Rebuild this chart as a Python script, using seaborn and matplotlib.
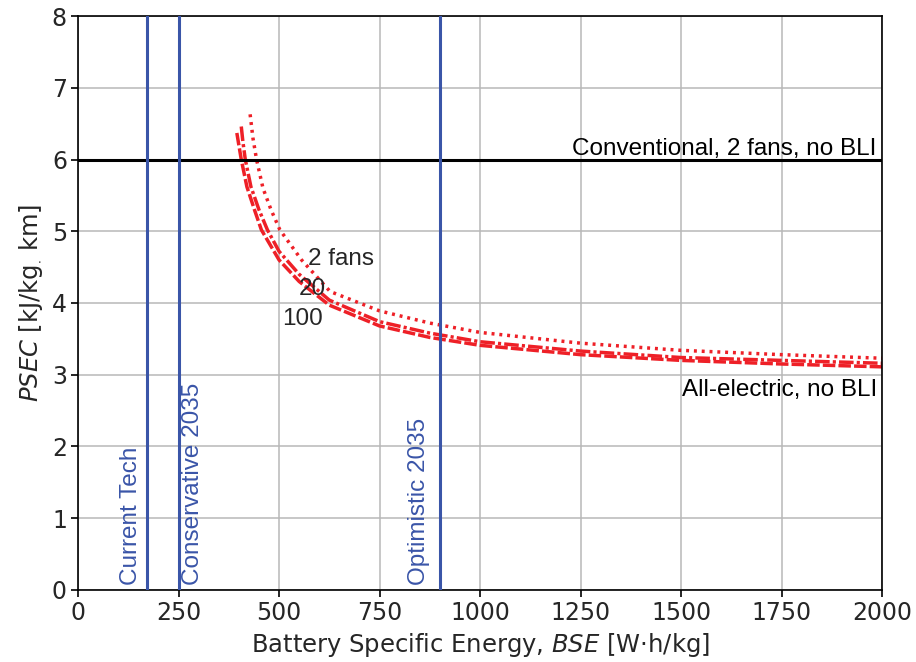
import matplotlib
matplotlib.use("Agg")
import matplotlib.pyplot as plt
import seaborn as sns
import pandas as pd

# ---- data ----
bse_100 = [395, 400, 406, 420, 440, 456, 500, 550, 625, 750, 875, 1000, 1250, 1500, 1750, 2000]
psec_100 = [6.37, 6.2, 6.0, 5.62, 5.28, 5.02, 4.6, 4.3, 3.97, 3.68, 3.52, 3.41, 3.28, 3.20, 3.15, 3.11]

bse_20 = [406, 410, 416, 430, 450, 471, 500, 550, 625, 750, 875, 1000, 1250, 1500, 1750, 2000]
psec_20 = [6.46, 6.25, 6.0, 5.62, 5.3, 5.02, 4.72, 4.4, 4.04, 3.74, 3.58, 3.46, 3.33, 3.24, 3.20, 3.16]

bse_2 = [428, 435, 444, 460, 480, 502, 556, 627, 700, 750, 875, 1000, 1250, 1500, 1750, 2000]
psec_2 = [6.63, 6.3, 6.0, 5.6, 5.3, 5.02, 4.6, 4.16, 4.0, 3.89, 3.72, 3.59, 3.44, 3.34, 3.28, 3.23]

conventional_psec = 6.0
tech_levels = ["Current Tech", "Conservative 2035", "Optimistic 2035"]
tech_bse = [172, 250, 900]

df = pd.concat([
    pd.DataFrame({"BSE": bse_100, "PSEC": psec_100, "fans": "100"}),
    pd.DataFrame({"BSE": bse_20, "PSEC": psec_20, "fans": "20"}),
    pd.DataFrame({"BSE": bse_2, "PSEC": psec_2, "fans": "2"}),
])

sns.set_theme(style="ticks")
plt.rcParams["font.family"] = ["DejaVu Sans"]
ann_font = ["Liberation Sans", "DejaVu Sans"]
FS = 17.5

fig = plt.figure(figsize=(9.16, 6.62), dpi=100)
ax = fig.add_axes([0.0852, 0.1088, 0.963 - 0.0852, 0.9758 - 0.1088])

red = "#ee2027"
blue = "#3a55a8"
styles = {"100": (0, (3.6, 0.9)), "20": (0, (4.2, 0.9, 0.9, 0.9)), "2": (0, (0.85, 1.4))}
for key, ls in styles.items():
    sub = df[df["fans"] == key]
    sns.lineplot(data=sub, x="BSE", y="PSEC", ax=ax, color=red, lw=2.5,
                 linestyle=ls, sort=False, estimator=None, legend=False)

ax.axhline(conventional_psec, color="black", lw=2.2, zorder=3)
for name, xv in zip(tech_levels, tech_bse):
    ax.axvline(xv, color=blue, lw=2.2, zorder=3)

txt_kw = dict(rotation=90, color=blue, fontsize=FS, family=ann_font, va="bottom")
ax.text(159, 0.07, "Current Tech", ha="right", **txt_kw)
ax.text(259, 0.07, "Conservative 2035", ha="left", **txt_kw)
ax.text(876, 0.07, "Optimistic 2035", ha="right", **txt_kw)

ax.text(1985, 6.06, "Conventional, 2 fans, no BLI", ha="right", va="baseline",
        fontsize=FS, family=ann_font, color="black")
ax.text(1988, 2.70, "All-electric, no BLI", ha="right", va="baseline",
        fontsize=FS, family=ann_font, color="black")
ax.text(572, 4.53, "2 fans", ha="left", va="baseline", fontsize=FS, family=ann_font)
ax.text(550, 4.11, "20", ha="left", va="baseline", fontsize=FS, family=ann_font)
ax.text(507, 3.69, "100", ha="left", va="baseline", fontsize=FS, family=ann_font)

ax.set_xlim(0, 2000)
ax.set_ylim(0, 8)
ax.set_xticks(range(0, 2001, 250))
ax.set_yticks(range(0, 9))
ax.grid(True, color="#b8b8b8", lw=1.1)
ax.set_axisbelow(True)
for s in ax.spines.values():
    s.set_visible(True)
    s.set_color("black")
    s.set_linewidth(1.2)
ax.tick_params(labelsize=17, length=5, width=1.2, color="black", direction="out", pad=3)
ax.set_xlabel("Battery Specific Energy, $\\it{BSE}$ [W·h/kg]", fontsize=17.5, labelpad=4)
ax.set_ylabel("$\\it{PSEC}$ [kJ/kg$_{_{\\cdot}}$ km]", fontsize=17.5, labelpad=6)

fig.savefig("out.png", dpi=100)
